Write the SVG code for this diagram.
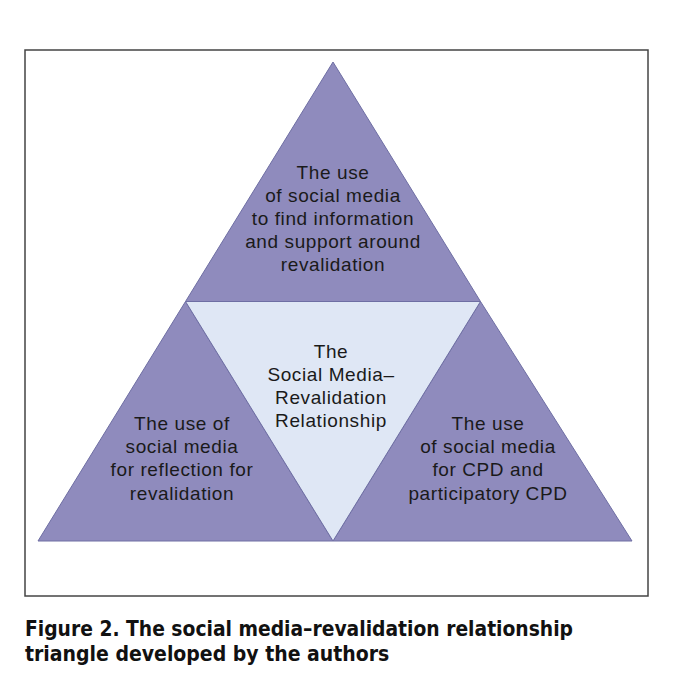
<svg xmlns="http://www.w3.org/2000/svg" width="673" height="680" viewBox="0 0 673 680">
<style>
.tri{fill:#8f8bbd;stroke:#6e6ea3;stroke-width:1}
.inner{fill:#dfe7f5;stroke:#6e6ea3;stroke-width:1}
.lbl{font-family:"Liberation Sans",Arial,sans-serif;font-size:19px;letter-spacing:0.6px;fill:#1a1a1a;text-anchor:middle}
.cap{font-family:"Liberation Sans Narrow","DejaVu Sans Condensed","Liberation Sans",sans-serif;font-weight:bold;font-size:21px;fill:#111}
</style>
<rect x="0" y="0" width="673" height="680" fill="#ffffff"/>
<rect id="frame" x="25" y="50" width="623" height="546" fill="#ffffff" stroke="#444" stroke-width="1.5"/>
<g id="top">
<polygon class="tri" points="333,62 185.5,301.5 480.5,301.5"/>
<text class="lbl" x="333" y="179">The use</text>
<text class="lbl" x="333" y="202">of social media</text>
<text class="lbl" x="333" y="225">to find information</text>
<text class="lbl" x="333" y="248">and support around</text>
<text class="lbl" x="333" y="271">revalidation</text>
</g>
<g id="left">
<polygon class="tri" points="185.5,301.5 38,541 333,541"/>
<text class="lbl" x="182" y="430">The use of</text>
<text class="lbl" x="182" y="453">social media</text>
<text class="lbl" x="182" y="476">for reflection for</text>
<text class="lbl" x="182" y="500">revalidation</text>
</g>
<g id="right">
<polygon class="tri" points="480.5,301.5 333,541 632,541"/>
<text class="lbl" x="488" y="430">The use</text>
<text class="lbl" x="488" y="453">of social media</text>
<text class="lbl" x="488" y="476">for CPD and</text>
<text class="lbl" x="488" y="500">participatory CPD</text>
</g>
<g id="center">
<polygon class="inner" points="185.5,301.5 480.5,301.5 333,541"/>
<text class="lbl" x="331" y="358">The</text>
<text class="lbl" x="331" y="381">Social Media–</text>
<text class="lbl" x="331" y="404">Revalidation</text>
<text class="lbl" x="331" y="427">Relationship</text>
</g>
<g id="connectors"></g>
<g id="caption">
<text class="cap" x="25" y="636" textLength="548" lengthAdjust="spacingAndGlyphs">Figure 2. The social media–revalidation relationship</text>
<text class="cap" x="25" y="661">triangle developed by the authors</text>
</g>
</svg>
